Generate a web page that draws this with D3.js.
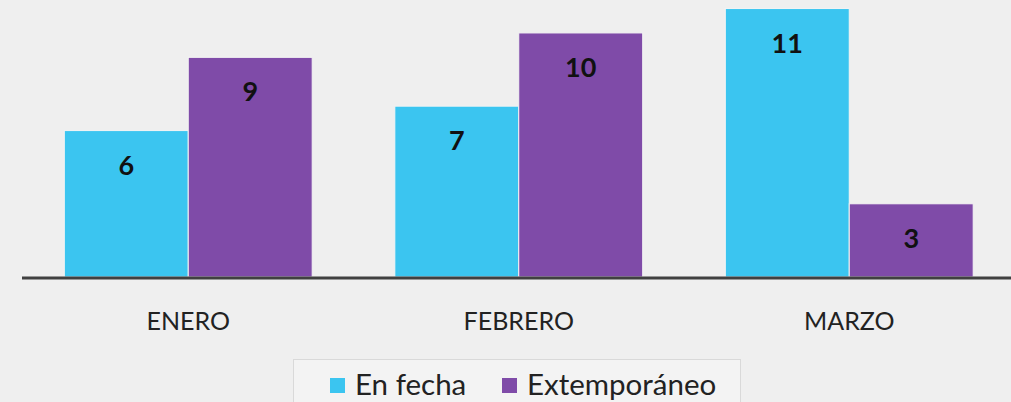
<!DOCTYPE html>
<html>
<head>
  <meta charset="utf-8">
  <style>
    html, body {
      margin: 0;
      padding: 0;
      background: #efefef;
      width: 100%;
      height: 100%;
      overflow: hidden;
      font-family: Lato, "Open Sans", sans-serif;
    }
    svg {
      display: block;
    }
    .bar {
      stroke: #f4f4f4;
      stroke-width: 1px;
    }
    .val {
      font-weight: bold;
      font-size: 27px;
      fill: #111;
    }
    .cat {
      font-size: 25px;
      fill: #222;
    }
    .leg {
      font-size: 29.5px;
      fill: #222;
    }
  </style>
</head>
<body>
  <svg width="1011" height="402"></svg>

  <script src="https://d3js.org/d3.v7.min.js"></script>
  <script>
    const months = ["ENERO", "FEBRERO", "MARZO"];
    const seriesNames = ["En fecha", "Extemporáneo"];
    const enFecha = [6, 7, 11];
    const extemporaneo = [9, 10, 3];
    const colors = ["#3bc5f0", "#7f4ba8"];

    const svg = d3.select("svg");
    const baseY = 277;

    const x = d3.scaleBand()
      .domain(months)
      .range([23, 1014.5])
      .paddingInner(0.25)
      .paddingOuter(0.125);

    const xs = d3.scaleBand()
      .domain(seriesNames)
      .range([0, x.bandwidth()]);

    const y = d3.scaleLinear()
      .domain([0, 11.35])
      .range([baseY, 0]);

    const color = d3.scaleOrdinal().domain(seriesNames).range(colors);

    const rows = months.map((m, i) => ({
      month: m,
      values: [
        { key: seriesNames[0], value: enFecha[i] },
        { key: seriesNames[1], value: extemporaneo[i] }
      ]
    }));

    const groups = svg.append("g")
      .selectAll("g")
      .data(rows)
      .join("g")
      .attr("transform", d => `translate(${x(d.month)},0)`);

    groups.selectAll("rect")
      .data(d => d.values)
      .join("rect")
      .attr("class", "bar")
      .attr("x", d => xs(d.key))
      .attr("y", d => y(d.value))
      .attr("width", xs.bandwidth())
      .attr("height", d => y(0) - y(d.value))
      .attr("fill", d => color(d.key));

    groups.selectAll("text")
      .data(d => d.values)
      .join("text")
      .attr("class", "val")
      .attr("x", d => xs(d.key) + xs.bandwidth() / 2)
      .attr("y", d => y(d.value) + 44)
      .attr("text-anchor", "middle")
      .text(d => d.value);

    // axis line
    svg.append("line")
      .attr("x1", 22)
      .attr("x2", 1011)
      .attr("y1", baseY + 1)
      .attr("y2", baseY + 1)
      .attr("stroke", "#404040")
      .attr("stroke-width", 3);

    const xAxis = d3.axisBottom(x).tickSize(0).tickPadding(0);
    const ax = svg.append("g")
      .attr("transform", `translate(0,${baseY})`)
      .call(xAxis)
      .attr("font-family", null)
      .attr("font-size", null);
    ax.select(".domain").remove();
    ax.selectAll("text")
      .attr("class", "cat")
      .attr("dy", 0)
      .attr("y", 53)
      .attr("fill", null);

    // legend
    const legend = svg.append("g");
    legend.append("rect")
      .attr("x", 293.5)
      .attr("y", 359.5)
      .attr("width", 447)
      .attr("height", 60)
      .attr("fill", "#f3f3f3")
      .attr("stroke", "#d9d9d9");

    const legX = [330, 502];
    const items = legend.selectAll("g.item")
      .data(seriesNames)
      .join("g")
      .attr("class", "item")
      .attr("transform", (d, i) => `translate(${legX[i]},378)`);
    items.append("rect")
      .attr("width", 15)
      .attr("height", 15)
      .attr("fill", d => color(d));
    items.append("text")
      .attr("class", "leg")
      .attr("x", 25)
      .attr("y", 17)
      .text(d => d);
  </script>
</body>
</html>
